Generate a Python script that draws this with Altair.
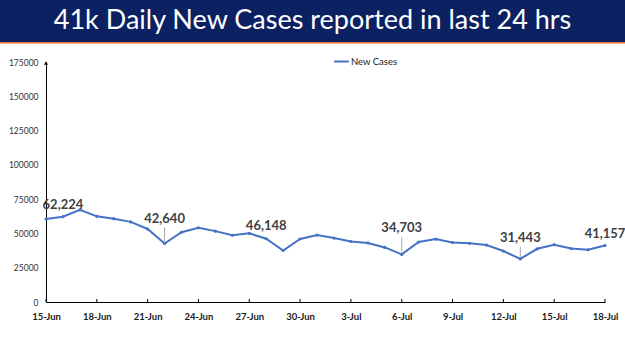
import altair as alt
import pandas as pd

# ---- data ----
dates = ["15-Jun", "16-Jun", "17-Jun", "18-Jun", "19-Jun", "20-Jun", "21-Jun", "22-Jun",
         "23-Jun", "24-Jun", "25-Jun", "26-Jun", "27-Jun", "28-Jun", "29-Jun", "30-Jun",
         "1-Jul", "2-Jul", "3-Jul", "4-Jul", "5-Jul", "6-Jul", "7-Jul", "8-Jul", "9-Jul",
         "10-Jul", "11-Jul", "12-Jul", "13-Jul", "14-Jul", "15-Jul", "16-Jul", "17-Jul", "18-Jul"]
new_cases = [60471, 62224, 67208, 62480, 60753, 58419, 53256, 42640,
             50848, 54069, 51667, 48698, 50040, 46148, 37566, 45951,
             48786, 46617, 44111, 43071, 39796, 34703, 43733, 45892, 43393,
             42766, 41506, 37154, 31443, 38792, 41806, 38949, 38079, 41157]
tick_dates = ["15-Jun", "18-Jun", "21-Jun", "24-Jun", "27-Jun", "30-Jun",
              "3-Jul", "6-Jul", "9-Jul", "12-Jul", "15-Jul", "18-Jul"]
label_dates = ["16-Jun", "22-Jun", "28-Jun", "6-Jul", "13-Jul", "18-Jul"]
y_ticks = [0, 25000, 50000, 75000, 100000, 125000, 150000, 175000]
series_name = "New Cases"
title_text = "41k Daily New Cases reported in last 24 hrs"

# ---- styling (pixel offsets for labels / leader lines) ----
label_dy = {"16-Jun": -12, "22-Jun": -25, "28-Jun": -13, "6-Jul": -26, "13-Jul": -21, "18-Jul": -12}
leader_px = {"22-Jun": (2, 16), "6-Jul": (2, 17), "13-Jul": (2, 12)}

W, H = 559, 240
PAD_L, PAD_T = 46, 62
FONT = "Lato"
BLUE = "#4472C4"
NAVY = "#0B2161"
ORANGE = "#E8703A"
YMAX = 175000
units_per_px = YMAX / H

df = pd.DataFrame({"date": dates, "value": new_cases, "series": series_name})
value_of = dict(zip(dates, new_cases))

X_AXIS = alt.Axis(title=None, values=tick_dates, labelAngle=0, tickSize=0,
                  labelPadding=9, labelFont=FONT, labelFontSize=9.5,
                  labelFontWeight="bold", labelColor="#1a1a1a",
                  domainColor="black", domainWidth=1, grid=False,
                  labelOverlap=False)
Y_AXIS = alt.Axis(title=None, values=y_ticks, format="d", tickSize=0, labelPadding=8,
                  labelFont=FONT, labelFontSize=8.5, labelColor="#333333",
                  domainColor="black", domainWidth=1, grid=False,
                  labelOverlap=False, labelFlush=False)
X_SCALE = alt.Scale(type="point", padding=0, domain=dates)
Y_SCALE = alt.Scale(domain=[0, YMAX], nice=False, zero=True)


def xo():
    return alt.X("date:O", sort=dates, scale=X_SCALE, axis=X_AXIS)


def yq(field):
    return alt.Y(field, scale=Y_SCALE, axis=Y_AXIS)


base = alt.Chart(df)

line = base.mark_line(strokeWidth=2).encode(
    x=xo(), y=yq("value:Q"),
    color=alt.Color("series:N", scale=alt.Scale(range=[BLUE]),
                    legend=alt.Legend(title=None, orient="none", legendX=287, legendY=-9,
                                      symbolType="stroke", symbolStrokeWidth=2,
                                      symbolSize=220, labelFont=FONT, labelFontSize=9.5,
                                      labelColor="#1a1a1a", labelOffset=1)))
points = base.mark_point(filled=True, size=10, color=BLUE, opacity=1).encode(
    x=xo(), y=yq("value:Q"))

# data labels
ann_rows = []
for d in label_dates:
    ann_rows.append({"date": d, "value": value_of[d],
                     "label": f"{value_of[d]:,}", "dy": label_dy[d]})
ann_df = pd.DataFrame(ann_rows)
labels = []
for _, r in ann_df.iterrows():
    labels.append(
        alt.Chart(ann_df[ann_df["date"] == r["date"]]).mark_text(
            font=FONT, fontSize=13, fontWeight="bold", color="#404040",
            dy=int(r["dy"]), baseline="middle", align="center").encode(
            x=xo(), y=yq("value:Q"), text="label:N"))

lead_rows = []
for d, (a, b) in leader_px.items():
    lead_rows.append({"date": d, "value": value_of[d] + a * units_per_px,
                      "y2": value_of[d] + b * units_per_px})
leaders = alt.Chart(pd.DataFrame(lead_rows)).mark_rule(color="#A6A6A6", strokeWidth=1).encode(
    x=xo(), y=yq("value:Q"), y2="y2:Q")

# inside tick marks on the x axis
ticks = alt.Chart(pd.DataFrame({"date": tick_dates})).mark_rule(color="black", strokeWidth=1).encode(
    x=xo(), y=alt.value(H), y2=alt.value(H - 3))

one = alt.Data(values=[{}])
arrow = alt.Chart(one).mark_point(shape="triangle-up", filled=True, color="black",
                                  size=16, opacity=1).encode(x=alt.value(0), y=alt.value(1))
banner = alt.Chart(one).mark_rect(color=NAVY).encode(
    x=alt.value(-PAD_L), x2=alt.value(625 - PAD_L), y=alt.value(-PAD_T), y2=alt.value(-PAD_T + 42))
stripe = alt.Chart(one).mark_rect(color=ORANGE).encode(
    x=alt.value(-PAD_L), x2=alt.value(625 - PAD_L), y=alt.value(-PAD_T + 42), y2=alt.value(-PAD_T + 43.5))
title = alt.Chart(one).mark_text(font=FONT, fontSize=27, color="white", align="center",
                                 baseline="middle").encode(
    x=alt.value(312.5 - PAD_L), y=alt.value(-PAD_T + 21), text=alt.value(title_text))

chart = alt.layer(banner, stripe, title, line, points, leaders, *labels, ticks, arrow).properties(
    width=W, height=H,
    autosize=alt.AutoSizeParams(type="none"),
    padding={"left": PAD_L, "top": PAD_T, "right": 625 - PAD_L - W, "bottom": 351 - PAD_T - H},
    background="white",
).configure_view(stroke=None).configure_axis(labelOverlap=False)

chart.save("out.html", embed_options={"renderer": "svg", "actions": False})
